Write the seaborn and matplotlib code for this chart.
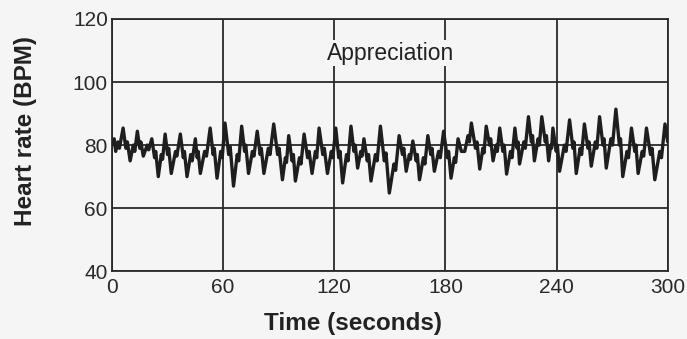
import matplotlib
matplotlib.use("Agg")
import matplotlib.pyplot as plt
import seaborn as sns
import pandas as pd

# heart rate trace (peaks, troughs and the small notches between them)
time_s = [0, 1.2, 2, 3.2, 4, 6, 7.5, 8.3, 9.8, 11.5, 12.3, 13.7, 15, 15.6, 16.9,
          19, 19.8, 21.5, 23, 23.6, 25, 26.6, 27.3, 28.7, 30, 30.6, 32,
          34.3, 35, 36.9, 38.5, 39.1, 40.5, 42.5, 43.3, 45, 46, 46.5, 47.7,
          50, 51, 53, 54.6, 55.2, 56.7, 58.7, 59.5, 61, 63, 63.8, 65.6,
          67.6, 68.4, 70, 71.6, 72.2, 73.7, 75.8, 76.6, 78.4, 80, 80.6, 82,
          84.4, 85.3, 87.3, 89.4, 90.2, 92, 93.6, 94.2, 95.4, 97.2, 97.9, 99,
          101.2, 102, 103.7, 105.6, 106.4, 108, 109.8, 110.5, 111.8, 113.8, 114.6, 116.3,
          118.4, 119.2, 120.8, 122.4, 123.1, 124.5, 126.6, 127.4, 129, 130.6, 131.3, 132.6,
          134.3, 134.9, 136, 137.8, 138.5, 139.8, 142.2, 143.1, 144.9, 147, 147.9, 149.7,
          152.2, 153.1, 155, 156.8, 157.5, 158.8, 160.5, 161.1, 162.4, 164.2, 164.8, 166,
          168.1, 168.9, 170.5, 172.1, 172.7, 174, 176.3, 177.2, 179, 181, 181.7, 183,
          184.8, 185.5, 186.8, 188.6, 190.4, 192.2, 192.9, 194, 196.2, 197, 198.5,
          200.2, 200.8, 202, 203.8, 204.4, 205.7, 207.4, 208, 209.3, 211, 211.7, 213,
          215.1, 215.9, 217.5, 218.7, 219.2, 220, 222.3, 223.1, 224.8, 226.4, 227, 228,
          230, 230.7, 232, 233.9, 234.5, 235.7, 236.8, 237.3, 238, 239.8, 240.4, 241.6,
          244.2, 245.1, 247, 248.8, 249.4, 250.6, 252.7, 253.5, 255, 256.9, 257.5, 258.7,
          260.9, 261.7, 263.2, 265, 265.6, 266.8, 269.3, 270.2, 272, 273.9, 274.5, 275.7,
          278, 278.8, 280.4, 282.2, 282.8, 284, 286.2, 287, 288.5, 290.7, 291.5, 293,
          295.7, 296.6, 298.5, 300]
heart_rate = [80, 82, 78, 81, 79, 85.4, 79, 81, 75, 80, 78, 84.4, 79, 81, 76.5,
              80, 78.5, 82, 76, 78, 70, 77, 75.5, 83.5, 77, 79, 71,
              78, 76.5, 83.5, 76, 78, 70, 77, 75, 82, 76, 78, 71,
              78, 76.5, 85.4, 77, 79, 69.5, 78, 76, 87, 77, 79.5, 67,
              77, 75, 86, 78, 80, 71, 78, 76.5, 84.4, 77, 79, 71,
              79, 77, 86.7, 77, 79, 69, 76, 74.5, 83, 75, 77, 68.6,
              76, 74, 83.5, 76, 78, 71, 78, 76, 85.4, 77, 79, 71,
              78, 76, 85.4, 76, 78, 68, 77, 75, 86, 78, 80, 72.7,
              78, 76.5, 82, 75, 77, 68.6, 77, 75, 86, 75, 77.5, 64.8,
              74, 72, 83, 77, 79, 71.7, 77, 75.5, 81.3, 75, 77, 69,
              76, 74, 83, 77, 79, 71.7, 78, 76, 84.4, 76, 78, 69.5,
              76, 74.5, 82, 78, 78, 83, 81, 87, 79, 81, 72.4,
              79, 77.5, 86, 80, 82, 75, 80, 78, 85.4, 78, 80, 70.8,
              78, 76, 85.4, 79, 81, 74, 81, 79, 89, 81, 83, 75,
              82, 80, 89, 81, 83, 75, 80, 79, 85.4, 78, 80, 71.7,
              80, 78, 88, 79, 81, 71, 79, 77, 86.7, 79, 81, 73.3,
              81, 79, 89, 80, 82, 72.7, 82, 80, 91.4, 80, 82, 70,
              78, 76, 85.4, 78, 80, 71, 78, 76.5, 85.4, 77, 79, 69,
              78, 76, 86.7, 81]

x_ticks = [0, 60, 120, 180, 240, 300]
y_ticks = [40, 60, 80, 100, 120]

df = pd.DataFrame({"Time (seconds)": time_s, "Heart rate (BPM)": heart_rate})

sns.set_style("white")
plt.rcParams["font.family"] = ["Liberation Sans", "DejaVu Sans"]

bg = "#f5f5f5"
fig = plt.figure(figsize=(6.87, 3.39), dpi=100, facecolor=bg)
ax = fig.add_axes([0.163, 0.200, 0.809, 0.744])
ax.set_facecolor(bg)

sns.lineplot(data=df, x="Time (seconds)", y="Heart rate (BPM)", ax=ax,
             color="#1e1e1e", linewidth=2.4, zorder=3)

ax.set_xlim(0, 300)
ax.set_ylim(40, 120)
ax.set_xticks(x_ticks)
ax.set_yticks(y_ticks)
ax.grid(True, color="#2a2a2a", linewidth=1.3)
ax.set_axisbelow(True)
for s in ax.spines.values():
    s.set_color("#2a2a2a")
    s.set_linewidth(1.3)
ax.tick_params(length=0, labelsize=15, colors="#2a2a2a")
ax.tick_params(axis="x", pad=5)
ax.tick_params(axis="y", pad=3)
ax.set_xlabel("Time (seconds)", fontsize=17.5, fontweight="bold", color="#222222")
ax.set_ylabel("Heart rate (BPM)", fontsize=17.5, fontweight="bold", color="#222222")
ax.xaxis.set_label_coords(0.434, -0.163)
ax.yaxis.set_label_coords(-0.135, 0.556)

ax.text(150.5, 109.2, "Appreciation", ha="center", va="center", fontsize=16.5,
        color="#222222", zorder=4,
        bbox=dict(facecolor=bg, edgecolor="none", pad=1))

fig.savefig("out.png", dpi=100, facecolor=bg)
